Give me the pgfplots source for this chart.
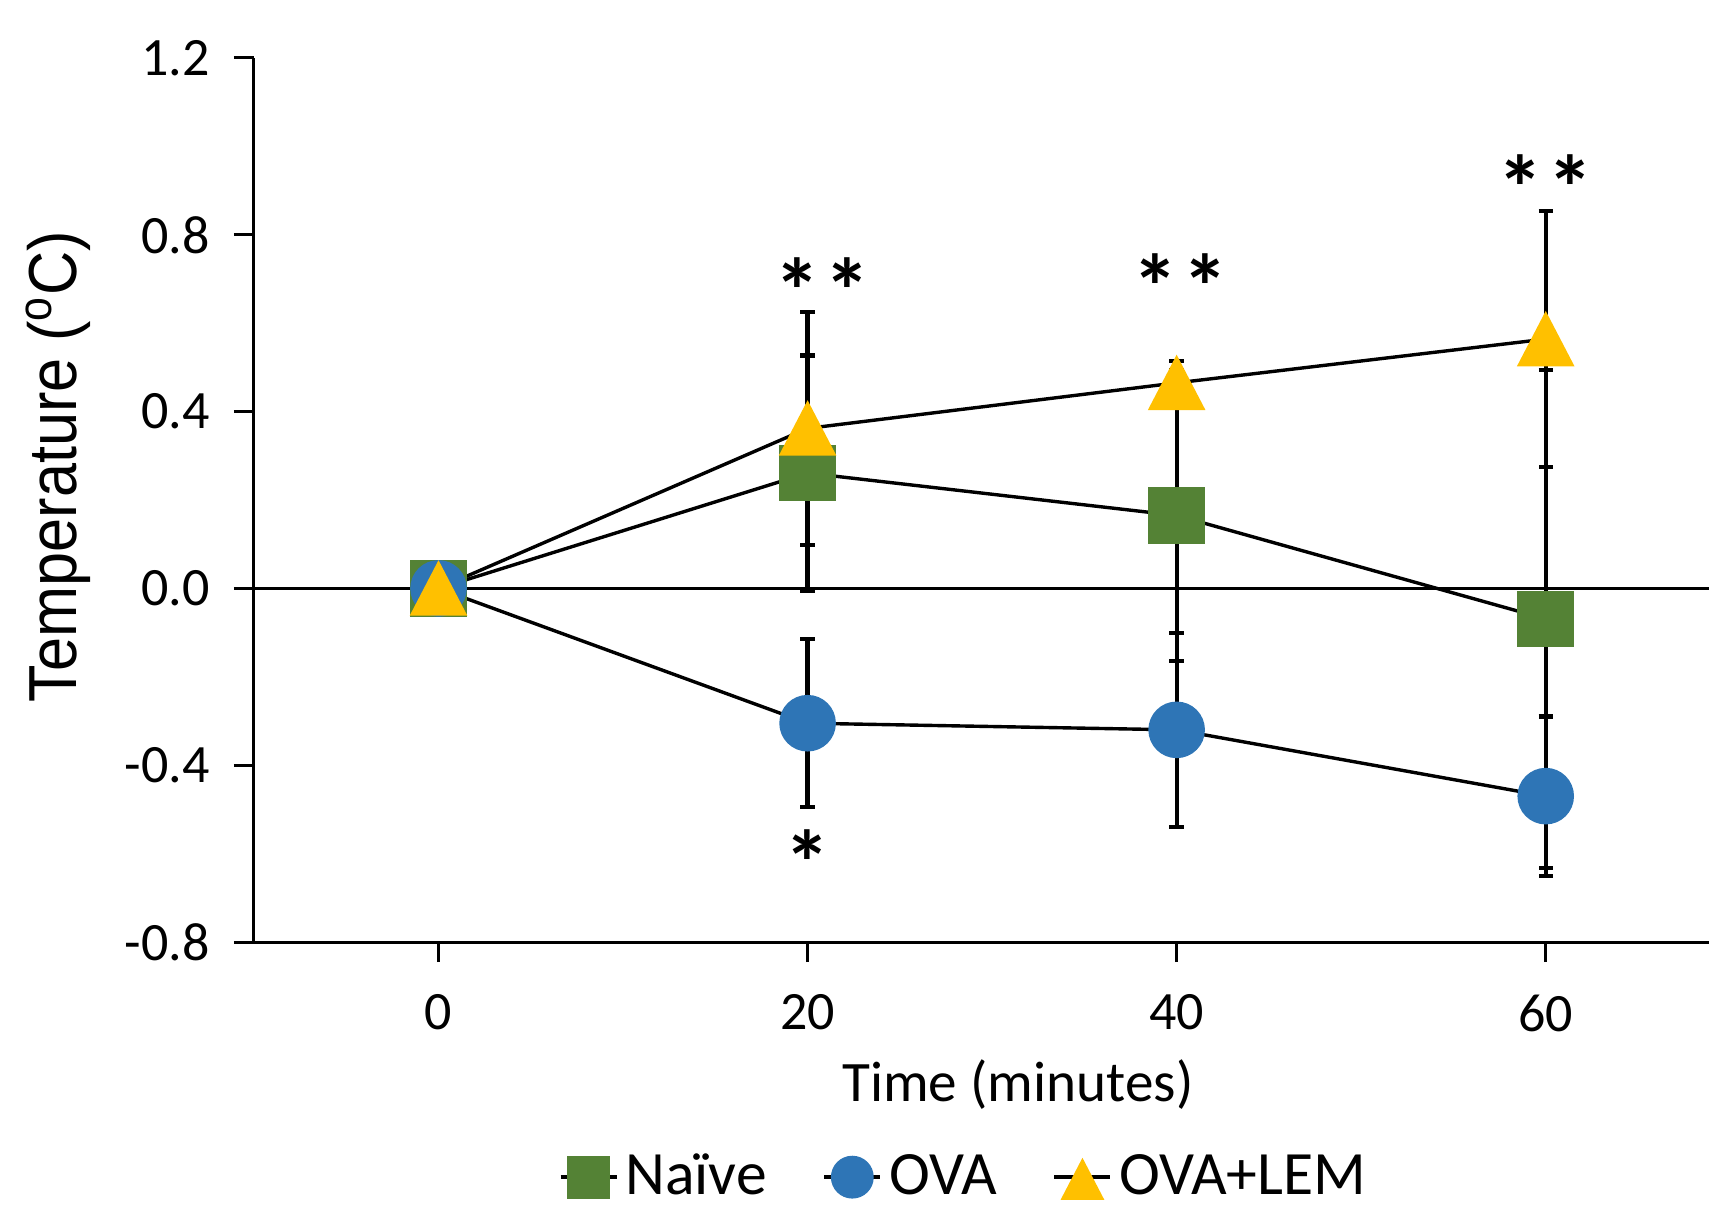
\documentclass[border=0pt]{standalone}
\usepackage{pgfplots}
\usepackage{pgfplotstable}
\pgfplotsset{compat=1.18}
\usepackage{fontspec}
\setmainfont{Carlito}
\newfontfamily\narrowfont[FakeStretch=0.9]{Liberation Sans}
\definecolor{cgreen}{HTML}{548235}
\definecolor{cblue}{HTML}{2E75B6}
\definecolor{cgold}{HTML}{FFC000}

\pgfplotstableread{
x y e
0 0 0
20 0.261 0.266
40 0.165 0.33
60 -0.069 0.564
}\naive
\pgfplotstableread{
x y e
0 0 0
20 -0.305 0.19
40 -0.32 0.22
60 -0.47 0.18
}\ova
\pgfplotstableread{
x y e
0 0 0
20 0.362 0.263
40 0.465 0.05
60 0.564 0.29
}\lem
\pgfplotstableread{
x y
-10 0
68.85 0
}\zeroline

\pgfplotsset{
  errstyle/.style={black, line width=0.85pt, forget plot, mark=none,
    error bars/.cd, y dir=both, y explicit, error mark=|,
    error bar style={line width=1.05pt, black},
    error mark options={black, line width=1.05pt, mark size=1.8pt}},
  mylegend/.style={legend image code/.code={
     \draw[black, line width=0.85pt] (-7pt,0pt) -- (7pt,0pt);
     \draw[##1, every mark/.append style={scale=0.75}] plot coordinates {(0pt,0pt)};
  }}
}

\begin{document}
\begin{tikzpicture}
\begin{axis}[
  at={(0,0)}, anchor=south west,
  scale only axis, width=363.75pt, height=221pt,
  xmin=-10, xmax=68.85, ymin=-0.8, ymax=1.2,
  axis x line=bottom, axis y line=left,
  axis line style={-, line width=0.75pt, black},
  xtick={0,20,40,60}, ytick={-0.8,-0.4,0,0.4,0.8,1.2},
  minor tick num=0,
  tick align=outside, major tick length=5pt,
  tick style={black, line width=0.75pt},
  yticklabel style={xshift=-2.5pt, /pgf/number format/.cd, fixed, fixed zerofill, precision=1, assume math mode=true},
  xticklabel style={yshift=-4.6pt, /pgf/number format/assume math mode=true},
  ticklabel style={font=\fontsize{13.5}{16}\selectfont},
  every axis x label/.style={at={(axis description cs:0.525,-0.1618)}, anchor=center},
  every axis y label/.style={at={(axis description cs:-0.1347,0.538)}, rotate=90, anchor=center},
  xlabel={\fontsize{14.3}{17}\selectfont Time (minutes)},
  ylabel={\narrowfont\fontsize{17}{20}\selectfont Temperature (\textsuperscript{o}C)},
  legend columns=3,
  legend cell align=left,
  legend style={at={(axis description cs:0.487,-0.266)}, anchor=center, draw=none, fill=none,
    font=\fontsize{15.4}{18}\selectfont, inner sep=0pt,
    nodes={inner sep=0pt},
    /tikz/every odd column/.append style={column sep=1.75pt},
    /tikz/every even column/.append style={column sep=14pt}},
  clip=false,
]
\addplot[black, line width=0.8pt, forget plot, mark=none] table[x=x,y=y]{\zeroline};
\addplot[errstyle] table[x=x,y=y,y error=e]{\naive};
\addplot[errstyle] table[x=x,y=y,y error=e]{\ova};
\addplot[errstyle] table[x=x,y=y,y error=e]{\lem};

\addplot[only marks, mark=square*, mark size=6.875pt, mark options={fill=cgreen, draw=cgreen}, mylegend] table[x=x,y=y]{\naive};
\addlegendentry{Naïve}
\addplot[only marks, mark=*, mark size=6.875pt, mark options={fill=cblue, draw=cblue}, mylegend] table[x=x,y=y]{\ova};
\addlegendentry{OVA}
\addplot[only marks, mark=triangle*, mark size=7.94pt, mark options={fill=cgold, draw=cgold, yshift=-2.2pt, yscale=1.11}, mylegend] table[x=x,y=y]{\lem};
\addlegendentry{OVA+LEM}

\node[font=\fontsize{23}{26}\selectfont\bfseries, yshift=-3.6pt] at (axis cs:20.8,0.706) {*\hspace{1pt}*};
\node[font=\fontsize{23}{26}\selectfont\bfseries, yshift=-3.6pt] at (axis cs:40.2,0.716) {*\hspace{1pt}*};
\node[font=\fontsize{23}{26}\selectfont\bfseries, yshift=-3.6pt] at (axis cs:60,0.94) {*\hspace{1pt}*};
\node[font=\fontsize{23}{26}\selectfont\bfseries, yshift=-3.6pt] at (axis cs:20,-0.588) {*};
\end{axis}
\pgfresetboundingbox
\path[use as bounding box] (-63.5pt,-66.75pt) rectangle (363.75pt,235.5pt);
\end{tikzpicture}
\end{document}
